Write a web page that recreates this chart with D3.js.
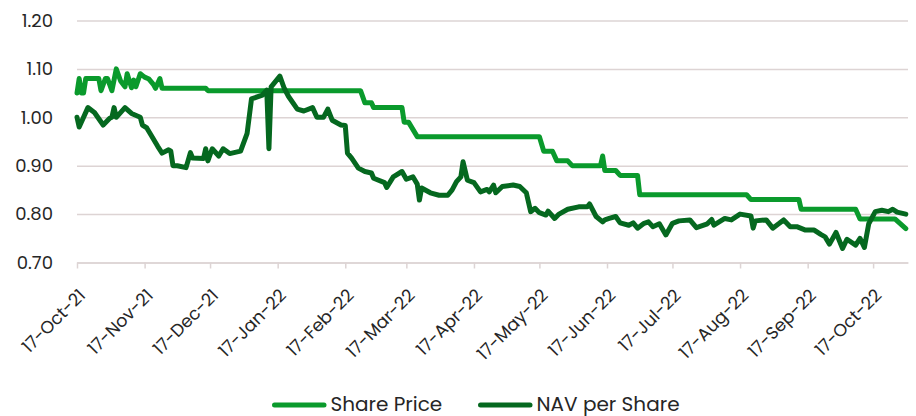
<!DOCTYPE html>
<html>
<head>
<meta charset="utf-8">
<script src="https://cdn.jsdelivr.net/npm/d3@7"></script>
<style>
  body { margin: 0; background: #fff; }
  text { font-family: Poppins, Inter, "DejaVu Sans", sans-serif; }
</style>
</head>
<body>
<div id="chart"></div>
<script>
// Share Price (daily close, steps)
const priceDates = [
  "2021-10-17","2021-10-18","2021-10-19","2021-10-20","2021-10-21","2021-10-27","2021-10-28","2021-10-30",
  "2021-10-31","2021-11-02","2021-11-04","2021-11-06","2021-11-08","2021-11-09","2021-11-11","2021-11-12",
  "2021-11-13","2021-11-15","2021-11-17","2021-11-19","2021-11-21","2021-11-22","2021-11-24","2021-11-25",
  "2021-12-15","2021-12-16","2022-02-24","2022-02-26","2022-03-01","2022-03-02","2022-03-15","2022-03-16",
  "2022-03-18","2022-03-22","2022-05-17","2022-05-19","2022-05-23","2022-05-25","2022-05-30","2022-06-01",
  "2022-06-14","2022-06-15","2022-06-16","2022-06-21","2022-06-23","2022-07-01","2022-07-02","2022-08-20",
  "2022-08-22","2022-09-13","2022-09-14","2022-10-09","2022-10-11","2022-10-27","2022-11-01"
];
const priceValues = [
  1.05,1.08,1.05,1.05,1.08,1.08,1.055,1.08,
  1.08,1.055,1.10,1.075,1.063,1.09,1.061,1.077,
  1.063,1.09,1.083,1.079,1.068,1.06,1.08,1.06,
  1.06,1.055,1.055,1.03,1.03,1.02,1.02,0.99,
  0.99,0.96,0.96,0.93,0.93,0.91,0.91,0.90,
  0.90,0.92,0.89,0.89,0.88,0.88,0.84,0.84,
  0.83,0.83,0.81,0.81,0.79,0.79,0.77
];

// NAV per Share
const navDates = [
  "2021-10-17","2021-10-18","2021-10-22","2021-10-25","2021-10-29","2021-11-01","2021-11-02","2021-11-03",
  "2021-11-04","2021-11-08","2021-11-11","2021-11-15","2021-11-16","2021-11-18","2021-11-20","2021-11-23",
  "2021-11-25","2021-11-28","2021-11-29","2021-11-30","2021-12-02","2021-12-06","2021-12-08","2021-12-09",
  "2021-12-14","2021-12-15","2021-12-16","2021-12-18","2021-12-21","2021-12-23","2021-12-26","2021-12-31",
  "2022-01-03","2022-01-05","2022-01-10","2022-01-12","2022-01-13","2022-01-14","2022-01-18","2022-01-20",
  "2022-01-22","2022-01-26","2022-01-29","2022-02-02","2022-02-04","2022-02-07","2022-02-09","2022-02-11",
  "2022-02-15","2022-02-17","2022-02-18","2022-02-20","2022-02-23","2022-02-26","2022-03-01","2022-03-02",
  "2022-03-07","2022-03-08","2022-03-11","2022-03-15","2022-03-17","2022-03-20","2022-03-22","2022-03-23",
  "2022-03-24","2022-03-28","2022-04-01","2022-04-05","2022-04-07","2022-04-09","2022-04-11","2022-04-12",
  "2022-04-14","2022-04-17","2022-04-20","2022-04-23","2022-04-24","2022-04-26","2022-04-27","2022-04-30",
  "2022-05-05","2022-05-08","2022-05-11","2022-05-13","2022-05-15","2022-05-17","2022-05-20","2022-05-21",
  "2022-05-24","2022-05-26","2022-05-30","2022-06-04","2022-06-08","2022-06-09","2022-06-12","2022-06-15",
  "2022-06-16","2022-06-18","2022-06-21","2022-06-23","2022-06-27","2022-06-29","2022-07-01","2022-07-04",
  "2022-07-06","2022-07-08","2022-07-11","2022-07-14","2022-07-17","2022-07-20","2022-07-25","2022-07-28",
  "2022-08-02","2022-08-04","2022-08-05","2022-08-10","2022-08-13","2022-08-17","2022-08-22","2022-08-23",
  "2022-08-24","2022-08-29","2022-09-01","2022-09-04","2022-09-06","2022-09-09","2022-09-12","2022-09-16",
  "2022-09-20","2022-09-23","2022-09-25","2022-09-27","2022-09-30","2022-10-03","2022-10-05","2022-10-09",
  "2022-10-11","2022-10-13","2022-10-15","2022-10-18","2022-10-21","2022-10-24","2022-10-26","2022-10-28",
  "2022-11-01"
];
const navValues = [
  1.00,0.98,1.02,1.01,0.984,0.998,1.00,1.02,
  1.00,1.02,1.008,1.00,0.984,0.978,0.963,0.94,
  0.926,0.933,0.93,0.90,0.90,0.896,0.927,0.916,
  0.915,0.935,0.91,0.935,0.92,0.935,0.925,0.93,
  0.967,1.038,1.046,1.056,0.935,1.063,1.085,1.06,
  1.043,1.017,1.013,1.02,1.00,1.00,1.017,0.994,
  0.984,0.983,0.926,0.915,0.895,0.888,0.885,0.874,
  0.865,0.855,0.877,0.888,0.872,0.877,0.862,0.829,
  0.854,0.844,0.839,0.839,0.85,0.867,0.877,0.908,
  0.87,0.865,0.846,0.851,0.846,0.86,0.844,0.857,
  0.86,0.857,0.844,0.805,0.812,0.803,0.798,0.806,
  0.791,0.80,0.81,0.815,0.815,0.821,0.795,0.784,
  0.788,0.791,0.795,0.782,0.777,0.782,0.771,0.781,
  0.784,0.774,0.78,0.757,0.781,0.786,0.788,0.772,
  0.78,0.789,0.777,0.791,0.788,0.80,0.796,0.771,
  0.786,0.788,0.771,0.781,0.788,0.774,0.774,0.767,
  0.767,0.758,0.753,0.738,0.762,0.729,0.748,0.736,
  0.75,0.731,0.78,0.805,0.808,0.805,0.81,0.804,
  0.80
];

const yTicks = [0.70, 0.80, 0.90, 1.00, 1.10, 1.20];
const xTickDates = [
  "2021-10-17","2021-11-17","2021-12-17","2022-01-17","2022-02-17","2022-03-17","2022-04-17",
  "2022-05-17","2022-06-17","2022-07-17","2022-08-17","2022-09-17","2022-10-17"
];
const seriesNames = ["Share Price", "NAV per Share"];

const parse = d3.utcParse("%Y-%m-%d");
const fmt = d3.utcFormat("%d-%b-%y");

const width = 916, height = 416;
const margin = {top: 20.5, right: 8, bottom: 153.5, left: 77};
const colors = ["#0a9a2c", "#05681f"];

const svg = d3.select("#chart")
    .append("svg")
    .attr("width", width)
    .attr("height", height);

// Set the ranges
const xScale = d3.scaleUtc()
    .domain([parse("2021-10-17"), parse("2022-11-02")])
    .range([margin.left, width - margin.right]);
const yScale = d3.scaleLinear()
    .domain([0.7, 1.2])
    .range([height - margin.bottom, margin.top]);

// Gridlines + y labels
const yAxis = svg.append("g")
    .attr("transform", "translate(" + margin.left + ",0)")
    .call(d3.axisLeft(yScale)
        .tickValues(yTicks)
        .tickFormat(d3.format(".2f"))
        .tickSize(-(width - margin.right - margin.left))
        .tickPadding(24));
yAxis.select(".domain").remove();
yAxis.selectAll(".tick line")
    .attr("stroke", "#ddd4d4")
    .attr("stroke-width", 1.5);
yAxis.selectAll(".tick text")
    .attr("fill", "#262626")
    .style("font-size", "18px");

// X axis
const xAxis = svg.append("g")
    .attr("transform", "translate(0," + (height - margin.bottom) + ")")
    .call(d3.axisBottom(xScale)
        .tickValues(xTickDates.map(parse))
        .tickFormat(fmt)
        .tickSize(6)
        .tickSizeOuter(0));
xAxis.select(".domain")
    .attr("stroke", "#ddd4d4")
    .attr("stroke-width", 1.5);
xAxis.selectAll(".tick line")
    .attr("stroke", "#ddd4d4")
    .attr("stroke-width", 1.5);
xAxis.selectAll(".tick text")
    .attr("x", 0)
    .attr("y", 0)
    .attr("dy", 0)
    .attr("transform", "translate(9,34) rotate(-45)")
    .style("text-anchor", "end")
    .attr("fill", "#262626")
    .style("font-size", "17.5px");

// Lines
const line = d3.line()
    .x(d => xScale(d.date))
    .y(d => yScale(d.value));

const series = [
    priceDates.map((d, i) => ({date: parse(d), value: priceValues[i]})),
    navDates.map((d, i) => ({date: parse(d), value: navValues[i]}))
];

series.forEach((s, i) => {
    svg.append("path")
        .datum(s)
        .attr("fill", "none")
        .attr("stroke", colors[i])
        .attr("stroke-width", 5)
        .attr("stroke-linejoin", "round")
        .attr("stroke-linecap", "round")
        .attr("d", line);
});

// Legend
const legendX = [272, 478];
seriesNames.forEach((name, i) => {
    const g = svg.append("g").attr("transform", "translate(" + legendX[i] + ",405)");
    g.append("line")
        .attr("x1", 2.5).attr("x2", 52)
        .attr("stroke", colors[i])
        .attr("stroke-width", 5)
        .attr("stroke-linecap", "round");
    g.append("text")
        .attr("x", 58.5)
        .attr("y", 6)
        .attr("fill", "#262626")
        .style("font-size", "20px")
        .text(name);
});
</script>
</body>
</html>
